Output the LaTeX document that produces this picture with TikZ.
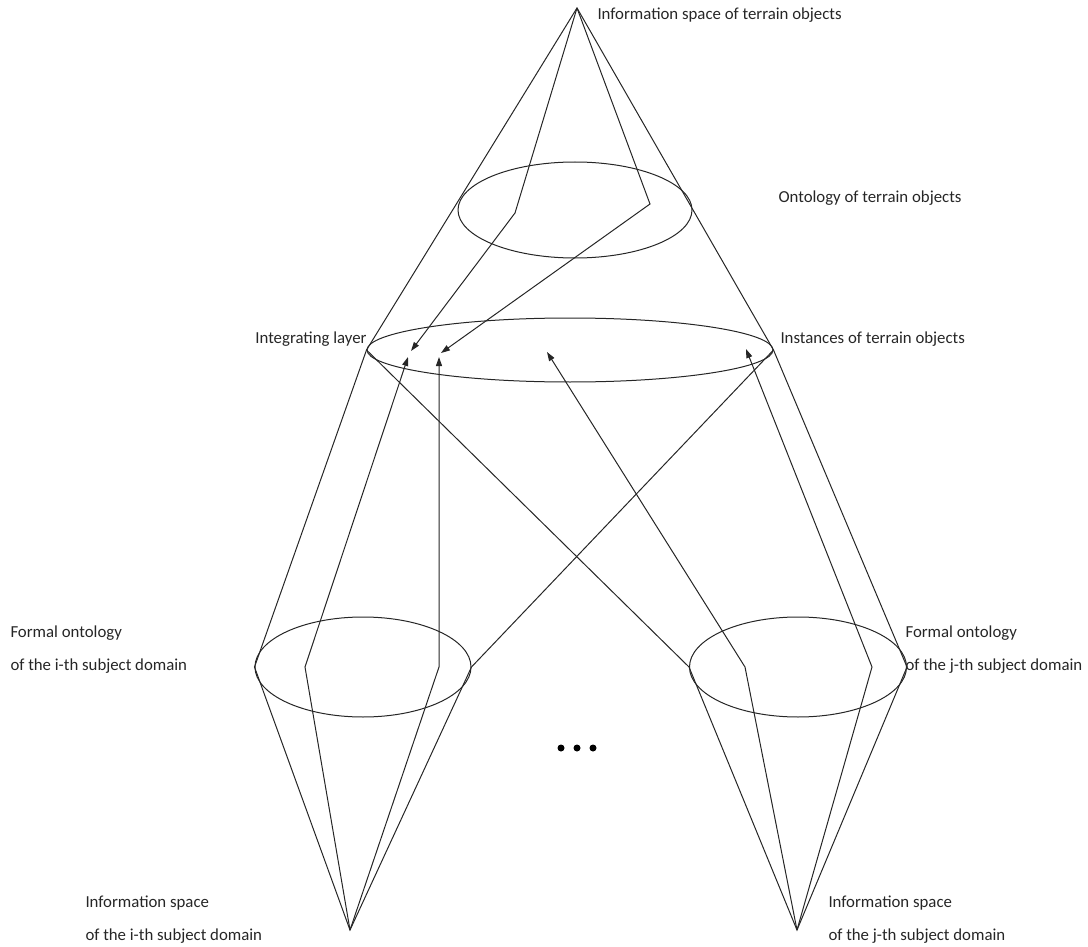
\documentclass[tikz,border=0pt]{standalone}
\usepackage{fontspec}
\setmainfont{Carlito}
\usetikzlibrary{shapes.geometric,arrows.meta}

\begin{document}
\begin{tikzpicture}[
  x=1pt, y=-1pt,
  line width=1pt, draw=black!85,
  disc/.style={ellipse, draw, inner sep=0pt},
  lbl/.style={font=\fontsize{16.8}{18}\selectfont, inner sep=0pt, text=black!85},
  link/.style={-{Triangle[length=9pt,width=6pt]}},
  dot/.style={circle, fill, inner sep=0pt, minimum size=7pt}
]
\useasboundingbox (0,0) rectangle (1088,947);

\coordinate (top) at (577,8);
\coordinate (iapex) at (350,930);
\coordinate (japex) at (797,930);
\node[disc, minimum width=234pt, minimum height=96pt] (onto) at (575,210) {};
\node[disc, minimum width=406pt, minimum height=64pt] (layer) at (570,350) {};
\node[disc, minimum width=216pt, minimum height=100pt] (iform) at (363,667) {};
\node[disc, minimum width=217pt, minimum height=100pt] (jform) at (798,667) {};

\draw (top) -- (layer.west) -- (iform.west) -- (iapex) -- (iform.east) -- (layer.east) -- cycle;
\draw (layer.west) -- (jform.west) -- (japex) -- (jform.east) -- (layer.east);

\coordinate (ok1) at (515,213);
\coordinate (ok2) at (650,204);
\coordinate (ik1) at (305,667);
\coordinate (ik2) at (439,667);
\coordinate (jk1) at (745,667);
\coordinate (jk2) at (872,667);
\coordinate (in1) at (411,351);
\coordinate (in2) at (441,353);
\coordinate (in3) at (408,357);
\coordinate (in4) at (439,357);
\coordinate (in5) at (547,352);
\coordinate (in6) at (746,349);

\draw[link] (top) -- (ok1) -- (in1);
\draw[link] (top) -- (ok2) -- (in2);
\draw[link] (iapex) -- (ik1) -- (in3);
\draw[link] (iapex) -- (ik2) -- (in4);
\draw[link] (japex) -- (jk1) -- (in5);
\draw[link] (japex) -- (jk2) -- (in6);

\foreach \x [count=\i] in {561,577,593}
  \node[dot] (dot\i) at (\x,748) {};

\node[lbl, anchor=west] (toptxt) at (597,15) {Information space of terrain objects};
\node[lbl, anchor=west] (ontotxt) at (778,198) {Ontology of terrain objects};
\node[lbl, anchor=east] (layertxt) at (367,339) {Integrating layer};
\node[lbl, anchor=west] (insttxt) at (780,339) {Instances of terrain objects};
\node[lbl, anchor=west] (iform1) at (10,633) {Formal ontology};
\node[lbl, anchor=west] (iform2) at (10,666) {of the i-th subject domain};
\node[lbl, anchor=west] (jform1) at (905,633) {Formal ontology};
\node[lbl, anchor=west] (jform2) at (905,666) {of the j-th subject domain};
\node[lbl, anchor=west] (ispace1) at (85,903) {Information space};
\node[lbl, anchor=west] (ispace2) at (85,936) {of the i-th subject domain};
\node[lbl, anchor=west] (jspace1) at (828,903) {Information space};
\node[lbl, anchor=west] (jspace2) at (828,936) {of the j-th subject domain};
\end{tikzpicture}
\end{document}
